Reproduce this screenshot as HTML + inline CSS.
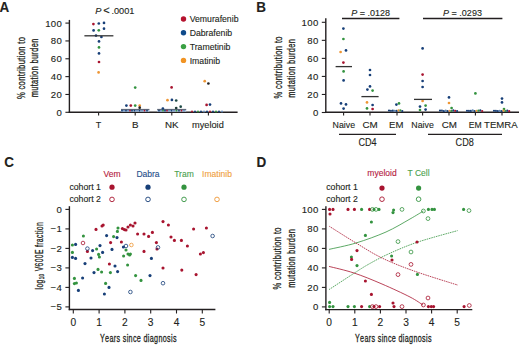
<!DOCTYPE html>
<html><head><meta charset="utf-8"><style>
html,body{margin:0;padding:0;background:#fff;}
svg{display:block;font-family:"Liberation Sans",sans-serif;}
</style></head><body>
<svg width="520" height="345" viewBox="0 0 520 345">
<rect width="520" height="345" fill="#fff"/>
<text transform="translate(-0.5,11.7) scale(0.93,1)" font-size="14.5" text-anchor="start" fill="#231f20" stroke="#231f20" stroke-width="0.12" font-weight="bold">A</text>
<text transform="translate(256.2,11.8) scale(0.93,1)" font-size="14.5" text-anchor="start" fill="#231f20" stroke="#231f20" stroke-width="0.12" font-weight="bold">B</text>
<text transform="translate(4.3,167.2) scale(0.93,1)" font-size="14.5" text-anchor="start" fill="#231f20" stroke="#231f20" stroke-width="0.12" font-weight="bold">C</text>
<text transform="translate(256.6,167.1) scale(0.93,1)" font-size="14.5" text-anchor="start" fill="#231f20" stroke="#231f20" stroke-width="0.12" font-weight="bold">D</text>
<line x1="69.4" y1="19.9" x2="69.4" y2="112.9" stroke="#231f20" stroke-width="1.4" />
<line x1="68.7" y1="112.2" x2="237.6" y2="112.2" stroke="#231f20" stroke-width="1.4" />
<line x1="65.4" y1="112.3" x2="69.4" y2="112.3" stroke="#231f20" stroke-width="1.1" />
<text x="62.2" y="115.7" font-size="9.6" text-anchor="end" fill="#231f20" stroke="#231f20" stroke-width="0.12" letter-spacing="0.35">0</text>
<line x1="65.4" y1="94.46" x2="69.4" y2="94.46" stroke="#231f20" stroke-width="1.1" />
<text x="62.2" y="97.86" font-size="9.6" text-anchor="end" fill="#231f20" stroke="#231f20" stroke-width="0.12" letter-spacing="0.35">20</text>
<line x1="65.4" y1="76.62" x2="69.4" y2="76.62" stroke="#231f20" stroke-width="1.1" />
<text x="62.2" y="80.02000000000001" font-size="9.6" text-anchor="end" fill="#231f20" stroke="#231f20" stroke-width="0.12" letter-spacing="0.35">40</text>
<line x1="65.4" y1="58.779999999999994" x2="69.4" y2="58.779999999999994" stroke="#231f20" stroke-width="1.1" />
<text x="62.2" y="62.17999999999999" font-size="9.6" text-anchor="end" fill="#231f20" stroke="#231f20" stroke-width="0.12" letter-spacing="0.35">60</text>
<line x1="65.4" y1="40.94" x2="69.4" y2="40.94" stroke="#231f20" stroke-width="1.1" />
<text x="62.2" y="44.339999999999996" font-size="9.6" text-anchor="end" fill="#231f20" stroke="#231f20" stroke-width="0.12" letter-spacing="0.35">80</text>
<line x1="65.4" y1="23.099999999999994" x2="69.4" y2="23.099999999999994" stroke="#231f20" stroke-width="1.1" />
<text x="62.2" y="26.499999999999993" font-size="9.6" text-anchor="end" fill="#231f20" stroke="#231f20" stroke-width="0.12" letter-spacing="0.35">100</text>
<line x1="98.6" y1="112" x2="98.6" y2="115.5" stroke="#231f20" stroke-width="1.1" />
<line x1="135.2" y1="112" x2="135.2" y2="115.5" stroke="#231f20" stroke-width="1.1" />
<line x1="171.8" y1="112" x2="171.8" y2="115.5" stroke="#231f20" stroke-width="1.1" />
<line x1="208.4" y1="112" x2="208.4" y2="115.5" stroke="#231f20" stroke-width="1.1" />
<text transform="translate(98.5,127.9) scale(0.92,1)" font-size="9.8" text-anchor="middle" fill="#231f20" stroke="#231f20" stroke-width="0.12" >T</text>
<text transform="translate(135.2,127.9) scale(1.0,1)" font-size="9.8" text-anchor="middle" fill="#231f20" stroke="#231f20" stroke-width="0.12" >B</text>
<text transform="translate(171.8,127.9) scale(1.0,1)" font-size="9.8" text-anchor="middle" fill="#231f20" stroke="#231f20" stroke-width="0.12" >NK</text>
<text transform="translate(207.9,127.9) scale(0.94,1)" font-size="9.8" text-anchor="middle" fill="#231f20" stroke="#231f20" stroke-width="0.12" >myeloid</text>
<text transform="translate(25.0,67.85) rotate(-90) scale(0.7342,1)" font-size="10.3" text-anchor="middle" letter-spacing="0.5" fill="#231f20" stroke="#231f20" stroke-width="0.3" style="font-kerning:none">% contribution to</text>
<text transform="translate(38.1,67.85) rotate(-90) scale(0.7196,1)" font-size="10.3" text-anchor="middle" letter-spacing="0.5" fill="#231f20" stroke="#231f20" stroke-width="0.3" style="font-kerning:none">mutation burden</text>
<text x="95.3" y="14" font-size="9.2" text-anchor="start" fill="#231f20" stroke="#231f20" stroke-width="0.12" font-weight="normal" ><tspan font-style="italic">P</tspan><tspan x="103.3" font-size="11" dy="0.4">&lt;</tspan><tspan x="111.4" dy="-0.4">.0001</tspan></text>
<circle cx="93.4" cy="24.1" r="1.35" fill="#a8142f"/>
<circle cx="98.8" cy="23.5" r="1.35" fill="#173f78"/>
<circle cx="104" cy="22.9" r="1.35" fill="#173f78"/>
<circle cx="93.6" cy="30.4" r="1.35" fill="#173f78"/>
<circle cx="98.8" cy="30.3" r="1.35" fill="#33933f"/>
<circle cx="104" cy="28.7" r="1.35" fill="#173f78"/>
<circle cx="96" cy="35.6" r="1.35" fill="#173f78"/>
<circle cx="101.4" cy="37" r="1.35" fill="#173f78"/>
<circle cx="99" cy="41.4" r="1.35" fill="#173f78"/>
<circle cx="99" cy="47.4" r="1.35" fill="#33933f"/>
<circle cx="99" cy="53.4" r="1.35" fill="#173f78"/>
<circle cx="99" cy="62" r="1.35" fill="#a8142f"/>
<circle cx="98.6" cy="72.4" r="1.35" fill="#ee9634"/>
<line x1="84.4" y1="35.8" x2="113.4" y2="35.8" stroke="#333" stroke-width="1.3" />
<rect x="121" y="109.2" width="28.4" height="2.6" fill="#a8bcd4"/>
<line x1="121" y1="109.4" x2="149.4" y2="109.4" stroke="#3a4250" stroke-width="0.8" />
<circle cx="135.2" cy="87.6" r="1.35" fill="#33933f"/>
<circle cx="126.4" cy="105.6" r="1.35" fill="#173f78"/>
<circle cx="130.8" cy="105.6" r="1.35" fill="#a8142f"/>
<circle cx="135.2" cy="105.6" r="1.35" fill="#33933f"/>
<circle cx="139.7" cy="105.6" r="1.35" fill="#ee9634"/>
<circle cx="139.7" cy="107.7" r="1.35" fill="#222"/>
<circle cx="122" cy="110.7" r="0.9" fill="#173f78"/>
<circle cx="124" cy="110.7" r="0.9" fill="#6a8fbf"/>
<circle cx="126" cy="110.7" r="0.9" fill="#173f78"/>
<circle cx="128" cy="110.7" r="0.9" fill="#6a8fbf"/>
<circle cx="130" cy="110.7" r="0.9" fill="#a8142f"/>
<circle cx="132" cy="110.7" r="0.9" fill="#173f78"/>
<circle cx="134.5" cy="110.7" r="0.9" fill="#173f78"/>
<circle cx="137" cy="110.7" r="0.9" fill="#6a8fbf"/>
<circle cx="139.5" cy="110.7" r="0.9" fill="#173f78"/>
<circle cx="142" cy="110.7" r="0.9" fill="#6a8fbf"/>
<circle cx="144.5" cy="110.7" r="0.9" fill="#a8142f"/>
<circle cx="147" cy="110.7" r="0.9" fill="#173f78"/>
<rect x="157.2" y="109.2" width="29" height="2.6" fill="#a8bcd4"/>
<line x1="157.2" y1="109.4" x2="186.2" y2="109.4" stroke="#3a4250" stroke-width="0.8" />
<circle cx="171.6" cy="87.4" r="1.35" fill="#a8142f"/>
<circle cx="167.5" cy="100.2" r="1.35" fill="#ee9634"/>
<circle cx="171.9" cy="99.9" r="1.35" fill="#173f78"/>
<circle cx="176.2" cy="100.5" r="1.35" fill="#1d4a45"/>
<circle cx="176.2" cy="108" r="1.35" fill="#1d3a35"/>
<circle cx="180.7" cy="106.7" r="1.35" fill="#1d4a45"/>
<circle cx="162.9" cy="108.5" r="1.35" fill="#173f78"/>
<circle cx="159" cy="110.7" r="0.9" fill="#173f78"/>
<circle cx="161" cy="110.7" r="0.9" fill="#6a8fbf"/>
<circle cx="163" cy="110.7" r="0.9" fill="#33933f"/>
<circle cx="165" cy="110.7" r="0.9" fill="#173f78"/>
<circle cx="167" cy="110.7" r="0.9" fill="#a8142f"/>
<circle cx="169" cy="110.7" r="0.9" fill="#6a8fbf"/>
<circle cx="171.5" cy="110.7" r="0.9" fill="#173f78"/>
<circle cx="174" cy="110.7" r="0.9" fill="#6a8fbf"/>
<circle cx="176.5" cy="110.7" r="0.9" fill="#33933f"/>
<circle cx="179" cy="110.7" r="0.9" fill="#173f78"/>
<circle cx="181.5" cy="110.7" r="0.9" fill="#a8142f"/>
<circle cx="184" cy="110.7" r="0.9" fill="#6a8fbf"/>
<circle cx="204.7" cy="81.2" r="1.35" fill="#ee9634"/>
<circle cx="208.4" cy="83.5" r="1.35" fill="#222"/>
<circle cx="206.6" cy="104.9" r="1.35" fill="#a8142f"/>
<circle cx="210" cy="104.6" r="1.35" fill="#173f78"/>
<circle cx="192" cy="111.5" r="1.0" fill="#a8142f"/>
<circle cx="195" cy="111.5" r="1.0" fill="#173f78"/>
<circle cx="198" cy="111.5" r="1.0" fill="#33933f"/>
<circle cx="201" cy="111.5" r="1.0" fill="#173f78"/>
<circle cx="204" cy="111.5" r="1.0" fill="#6a8fbf"/>
<circle cx="207" cy="111.5" r="1.0" fill="#173f78"/>
<circle cx="210" cy="111.5" r="1.0" fill="#a8142f"/>
<circle cx="213" cy="111.5" r="1.0" fill="#173f78"/>
<circle cx="216" cy="111.5" r="1.0" fill="#33933f"/>
<circle cx="219" cy="111.5" r="1.0" fill="#173f78"/>
<circle cx="222" cy="111.5" r="1.0" fill="#6a8fbf"/>
<circle cx="183.5" cy="19.0" r="2.7" fill="#b5122e"/>
<text x="189.7" y="22.1" font-size="8.7" text-anchor="start" fill="#231f20" stroke="#231f20" stroke-width="0.12" font-weight="normal" >Vemurafenib</text>
<circle cx="183.5" cy="32.8" r="2.7" fill="#0f4a8a"/>
<text x="189.7" y="35.9" font-size="8.7" text-anchor="start" fill="#231f20" stroke="#231f20" stroke-width="0.12" font-weight="normal" >Dabrafenib</text>
<circle cx="183.5" cy="46.6" r="2.7" fill="#3aa043"/>
<text x="189.7" y="49.7" font-size="8.7" text-anchor="start" fill="#231f20" stroke="#231f20" stroke-width="0.12" font-weight="normal" >Trametinib</text>
<circle cx="183.5" cy="60.400000000000006" r="2.7" fill="#f19424"/>
<text x="189.7" y="63.50000000000001" font-size="8.7" text-anchor="start" fill="#231f20" stroke="#231f20" stroke-width="0.12" font-weight="normal" >Imatinib</text>
<line x1="325.8" y1="18.2" x2="325.8" y2="112.9" stroke="#231f20" stroke-width="1.4" />
<line x1="325.1" y1="112.2" x2="519" y2="112.2" stroke="#231f20" stroke-width="1.4" />
<line x1="321.8" y1="112.5" x2="325.8" y2="112.5" stroke="#231f20" stroke-width="1.1" />
<text x="318.6" y="115.9" font-size="9.6" text-anchor="end" fill="#231f20" stroke="#231f20" stroke-width="0.12" letter-spacing="0.35">0</text>
<line x1="321.8" y1="94.46000000000001" x2="325.8" y2="94.46000000000001" stroke="#231f20" stroke-width="1.1" />
<text x="318.6" y="97.86000000000001" font-size="9.6" text-anchor="end" fill="#231f20" stroke="#231f20" stroke-width="0.12" letter-spacing="0.35">20</text>
<line x1="321.8" y1="76.42" x2="325.8" y2="76.42" stroke="#231f20" stroke-width="1.1" />
<text x="318.6" y="79.82000000000001" font-size="9.6" text-anchor="end" fill="#231f20" stroke="#231f20" stroke-width="0.12" letter-spacing="0.35">40</text>
<line x1="321.8" y1="58.379999999999995" x2="325.8" y2="58.379999999999995" stroke="#231f20" stroke-width="1.1" />
<text x="318.6" y="61.779999999999994" font-size="9.6" text-anchor="end" fill="#231f20" stroke="#231f20" stroke-width="0.12" letter-spacing="0.35">60</text>
<line x1="321.8" y1="40.34" x2="325.8" y2="40.34" stroke="#231f20" stroke-width="1.1" />
<text x="318.6" y="43.74" font-size="9.6" text-anchor="end" fill="#231f20" stroke="#231f20" stroke-width="0.12" letter-spacing="0.35">80</text>
<line x1="321.8" y1="22.299999999999997" x2="325.8" y2="22.299999999999997" stroke="#231f20" stroke-width="1.1" />
<text x="318.6" y="25.699999999999996" font-size="9.6" text-anchor="end" fill="#231f20" stroke="#231f20" stroke-width="0.12" letter-spacing="0.35">100</text>
<line x1="343.6" y1="112" x2="343.6" y2="115.5" stroke="#231f20" stroke-width="1.1" />
<line x1="370" y1="112" x2="370" y2="115.5" stroke="#231f20" stroke-width="1.1" />
<line x1="397" y1="112" x2="397" y2="115.5" stroke="#231f20" stroke-width="1.1" />
<line x1="422.6" y1="112" x2="422.6" y2="115.5" stroke="#231f20" stroke-width="1.1" />
<line x1="449" y1="112" x2="449" y2="115.5" stroke="#231f20" stroke-width="1.1" />
<line x1="475.4" y1="112" x2="475.4" y2="115.5" stroke="#231f20" stroke-width="1.1" />
<line x1="502" y1="112" x2="502" y2="115.5" stroke="#231f20" stroke-width="1.1" />
<text transform="translate(343.85,127.9) scale(0.9,1)" font-size="9.8" text-anchor="middle" fill="#231f20" stroke="#231f20" stroke-width="0.12" >Naive</text>
<text transform="translate(370,127.9) scale(1.0,1)" font-size="9.8" text-anchor="middle" fill="#231f20" stroke="#231f20" stroke-width="0.12" >CM</text>
<text transform="translate(396.3,127.9) scale(0.98,1)" font-size="9.8" text-anchor="middle" fill="#231f20" stroke="#231f20" stroke-width="0.12" >EM</text>
<text transform="translate(422.6,127.9) scale(0.9,1)" font-size="9.8" text-anchor="middle" fill="#231f20" stroke="#231f20" stroke-width="0.12" >Naive</text>
<text transform="translate(449.3,127.9) scale(1.0,1)" font-size="9.8" text-anchor="middle" fill="#231f20" stroke="#231f20" stroke-width="0.12" >CM</text>
<text transform="translate(475.2,127.9) scale(0.88,1)" font-size="9.8" text-anchor="middle" fill="#231f20" stroke="#231f20" stroke-width="0.12" >EM</text>
<text transform="translate(500.9,127.9) scale(0.98,1)" font-size="9.8" text-anchor="middle" fill="#231f20" stroke="#231f20" stroke-width="0.12" >TEMRA</text>
<text transform="translate(281.8,67.3) rotate(-90) scale(0.7342,1)" font-size="10.3" text-anchor="middle" letter-spacing="0.5" fill="#231f20" stroke="#231f20" stroke-width="0.3" style="font-kerning:none">% contribution to</text>
<text transform="translate(294.8,68.2) rotate(-90) scale(0.7196,1)" font-size="10.3" text-anchor="middle" letter-spacing="0.5" fill="#231f20" stroke="#231f20" stroke-width="0.3" style="font-kerning:none">mutation burden</text>
<line x1="339" y1="134.4" x2="396" y2="134.4" stroke="#231f20" stroke-width="1.3" />
<line x1="428" y1="134.4" x2="502" y2="134.4" stroke="#231f20" stroke-width="1.3" />
<text transform="translate(367.5,146.3) scale(0.86,1)" font-size="10.6" text-anchor="middle" fill="#231f20" stroke="#231f20" stroke-width="0.12" >CD4</text>
<text transform="translate(464.7,146.3) scale(0.86,1)" font-size="10.6" text-anchor="middle" fill="#231f20" stroke="#231f20" stroke-width="0.12" >CD8</text>
<line x1="342" y1="18.5" x2="399.4" y2="18.5" stroke="#231f20" stroke-width="1.3" />
<line x1="423" y1="18.5" x2="502.4" y2="18.5" stroke="#231f20" stroke-width="1.3" />
<text x="370.7" y="15.6" font-size="9" text-anchor="middle" fill="#231f20" stroke="#231f20" stroke-width="0.12" font-weight="normal" ><tspan font-style="italic">P</tspan> = .0128</text>
<text x="462.5" y="15.6" font-size="9" text-anchor="middle" fill="#231f20" stroke="#231f20" stroke-width="0.12" font-weight="normal" ><tspan font-style="italic">P</tspan> = .0293</text>
<circle cx="343.4" cy="28.6" r="1.35" fill="#173f78"/>
<circle cx="343.4" cy="39" r="1.35" fill="#33933f"/>
<circle cx="340.6" cy="52" r="1.35" fill="#ee9634"/>
<circle cx="346" cy="50.4" r="1.35" fill="#173f78"/>
<circle cx="343.4" cy="62.6" r="1.35" fill="#a8142f"/>
<circle cx="343.6" cy="71.4" r="1.35" fill="#33933f"/>
<circle cx="343.6" cy="80.4" r="1.35" fill="#173f78"/>
<circle cx="341" cy="103.4" r="1.35" fill="#173f78"/>
<circle cx="346" cy="104.4" r="1.35" fill="#173f78"/>
<circle cx="343.6" cy="108.6" r="1.35" fill="#173f78"/>
<circle cx="370" cy="70" r="1.35" fill="#173f78"/>
<circle cx="370" cy="75" r="1.35" fill="#173f78"/>
<circle cx="367.4" cy="89.6" r="1.35" fill="#173f78"/>
<circle cx="372.6" cy="90.6" r="1.35" fill="#33933f"/>
<circle cx="370" cy="86.4" r="1.35" fill="#173f78"/>
<circle cx="367" cy="102.4" r="1.35" fill="#ee9634"/>
<circle cx="372.6" cy="105" r="1.35" fill="#173f78"/>
<circle cx="367" cy="108.4" r="1.35" fill="#33933f"/>
<circle cx="372.6" cy="109" r="1.35" fill="#a8142f"/>
<circle cx="396.4" cy="104.6" r="1.35" fill="#173f78"/>
<circle cx="399" cy="103.4" r="1.35" fill="#33933f"/>
<circle cx="422.6" cy="48.4" r="1.35" fill="#173f78"/>
<circle cx="422.6" cy="74.6" r="1.35" fill="#a8142f"/>
<circle cx="422.6" cy="81" r="1.35" fill="#173f78"/>
<circle cx="422.6" cy="87" r="1.35" fill="#173f78"/>
<circle cx="422.6" cy="101" r="1.35" fill="#ee9634"/>
<circle cx="420" cy="106.6" r="1.35" fill="#173f78"/>
<circle cx="425.6" cy="105.6" r="1.35" fill="#33933f"/>
<circle cx="425.6" cy="109.6" r="1.35" fill="#173f78"/>
<circle cx="420" cy="110" r="1.35" fill="#33933f"/>
<circle cx="449" cy="97.4" r="1.35" fill="#173f78"/>
<circle cx="449" cy="103" r="1.35" fill="#ee9634"/>
<circle cx="451.6" cy="108" r="1.35" fill="#33933f"/>
<circle cx="475.4" cy="93.4" r="1.35" fill="#33933f"/>
<circle cx="502" cy="98.6" r="1.35" fill="#173f78"/>
<circle cx="502" cy="102.4" r="1.35" fill="#173f78"/>
<circle cx="504" cy="109" r="1.35" fill="#33933f"/>
<line x1="335.6" y1="66.6" x2="352" y2="66.6" stroke="#333" stroke-width="1.3" />
<line x1="361.4" y1="96.6" x2="378.6" y2="96.6" stroke="#333" stroke-width="1.3" />
<line x1="414" y1="99.4" x2="432" y2="99.4" stroke="#333" stroke-width="1.3" />
<circle cx="389" cy="110.51416816438271" r="1.1" fill="#173f78"/>
<circle cx="390.9" cy="110.78980630276637" r="1.1" fill="#2a4a7a"/>
<circle cx="392.79999999999995" cy="110.63295964989328" r="1.1" fill="#173f78"/>
<circle cx="394.69999999999993" cy="110.84352803473658" r="1.1" fill="#5f86b5"/>
<circle cx="396.5999999999999" cy="110.86314827369725" r="1.1" fill="#173f78"/>
<circle cx="398.4999999999999" cy="110.35897597331584" r="1.1" fill="#ee9634"/>
<circle cx="400.39999999999986" cy="110.31185119239939" r="1.1" fill="#33933f"/>
<circle cx="402.29999999999984" cy="111.05372217388683" r="1.1" fill="#173f78"/>
<circle cx="440" cy="110.53341861289522" r="1.1" fill="#173f78"/>
<circle cx="441.9" cy="110.51089786494204" r="1.1" fill="#2a4a7a"/>
<circle cx="443.79999999999995" cy="111.19608035195942" r="1.1" fill="#173f78"/>
<circle cx="445.69999999999993" cy="110.72323715677021" r="1.1" fill="#5f86b5"/>
<circle cx="447.5999999999999" cy="111.05281530614695" r="1.1" fill="#173f78"/>
<circle cx="449.4999999999999" cy="110.7287178878294" r="1.1" fill="#ee9634"/>
<circle cx="451.39999999999986" cy="110.87516132648975" r="1.1" fill="#33933f"/>
<circle cx="453.29999999999984" cy="110.43555478162118" r="1.1" fill="#173f78"/>
<circle cx="455.1999999999998" cy="110.87137459245668" r="1.1" fill="#a8142f"/>
<circle cx="457.0999999999998" cy="111.08124077642897" r="1.1" fill="#173f78"/>
<circle cx="467" cy="110.77086308934497" r="1.1" fill="#173f78"/>
<circle cx="468.9" cy="110.96712667058135" r="1.1" fill="#2a4a7a"/>
<circle cx="470.79999999999995" cy="110.90427032783263" r="1.1" fill="#173f78"/>
<circle cx="472.69999999999993" cy="110.35762829440431" r="1.1" fill="#5f86b5"/>
<circle cx="474.5999999999999" cy="110.98240722165814" r="1.1" fill="#173f78"/>
<circle cx="476.4999999999999" cy="110.8319896246382" r="1.1" fill="#ee9634"/>
<circle cx="478.39999999999986" cy="110.57114089356415" r="1.1" fill="#33933f"/>
<circle cx="480.29999999999984" cy="110.32791057632278" r="1.1" fill="#173f78"/>
<circle cx="482.1999999999998" cy="111.07897451328105" r="1.1" fill="#a8142f"/>
<circle cx="494" cy="110.72547417979892" r="1.1" fill="#173f78"/>
<circle cx="495.9" cy="110.94694153165923" r="1.1" fill="#2a4a7a"/>
<circle cx="497.79999999999995" cy="111.09093152022994" r="1.1" fill="#173f78"/>
<circle cx="499.69999999999993" cy="110.94271653525009" r="1.1" fill="#5f86b5"/>
<circle cx="501.5999999999999" cy="111.1289888008255" r="1.1" fill="#173f78"/>
<circle cx="503.4999999999999" cy="110.65546706360068" r="1.1" fill="#ee9634"/>
<circle cx="505.39999999999986" cy="111.02081789388671" r="1.1" fill="#33933f"/>
<circle cx="507.29999999999984" cy="110.70015895044568" r="1.1" fill="#173f78"/>
<circle cx="509.1999999999998" cy="111.14202804953408" r="1.1" fill="#a8142f"/>
<line x1="69.4" y1="206.2" x2="69.4" y2="310.2" stroke="#231f20" stroke-width="1.4" />
<line x1="68.7" y1="309.5" x2="215.4" y2="309.5" stroke="#231f20" stroke-width="1.4" />
<line x1="65.4" y1="209.4" x2="69.4" y2="209.4" stroke="#231f20" stroke-width="1.1" />
<text x="62.2" y="212.8" font-size="9.6" text-anchor="end" fill="#231f20" stroke="#231f20" stroke-width="0.12" letter-spacing="0.35">0</text>
<line x1="65.4" y1="228.9" x2="69.4" y2="228.9" stroke="#231f20" stroke-width="1.1" />
<text x="62.2" y="232.3" font-size="9.6" text-anchor="end" fill="#231f20" stroke="#231f20" stroke-width="0.12" letter-spacing="0.35">&#8722;1</text>
<line x1="65.4" y1="248.4" x2="69.4" y2="248.4" stroke="#231f20" stroke-width="1.1" />
<text x="62.2" y="251.8" font-size="9.6" text-anchor="end" fill="#231f20" stroke="#231f20" stroke-width="0.12" letter-spacing="0.35">&#8722;2</text>
<line x1="65.4" y1="267.9" x2="69.4" y2="267.9" stroke="#231f20" stroke-width="1.1" />
<text x="62.2" y="271.29999999999995" font-size="9.6" text-anchor="end" fill="#231f20" stroke="#231f20" stroke-width="0.12" letter-spacing="0.35">&#8722;3</text>
<line x1="65.4" y1="287.4" x2="69.4" y2="287.4" stroke="#231f20" stroke-width="1.1" />
<text x="62.2" y="290.79999999999995" font-size="9.6" text-anchor="end" fill="#231f20" stroke="#231f20" stroke-width="0.12" letter-spacing="0.35">&#8722;4</text>
<line x1="65.4" y1="306.9" x2="69.4" y2="306.9" stroke="#231f20" stroke-width="1.1" />
<text x="62.2" y="310.29999999999995" font-size="9.6" text-anchor="end" fill="#231f20" stroke="#231f20" stroke-width="0.12" letter-spacing="0.35">&#8722;5</text>
<line x1="73.3" y1="309.5" x2="73.3" y2="313.5" stroke="#231f20" stroke-width="1.1" />
<text x="73.3" y="325.9" font-size="10.2" text-anchor="middle" fill="#231f20" stroke="#231f20" stroke-width="0.12" font-weight="normal" >0</text>
<line x1="99.1" y1="309.5" x2="99.1" y2="313.5" stroke="#231f20" stroke-width="1.1" />
<text x="99.1" y="325.9" font-size="10.2" text-anchor="middle" fill="#231f20" stroke="#231f20" stroke-width="0.12" font-weight="normal" >1</text>
<line x1="124.9" y1="309.5" x2="124.9" y2="313.5" stroke="#231f20" stroke-width="1.1" />
<text x="124.9" y="325.9" font-size="10.2" text-anchor="middle" fill="#231f20" stroke="#231f20" stroke-width="0.12" font-weight="normal" >2</text>
<line x1="150.7" y1="309.5" x2="150.7" y2="313.5" stroke="#231f20" stroke-width="1.1" />
<text x="150.7" y="325.9" font-size="10.2" text-anchor="middle" fill="#231f20" stroke="#231f20" stroke-width="0.12" font-weight="normal" >3</text>
<line x1="176.5" y1="309.5" x2="176.5" y2="313.5" stroke="#231f20" stroke-width="1.1" />
<text x="176.5" y="325.9" font-size="10.2" text-anchor="middle" fill="#231f20" stroke="#231f20" stroke-width="0.12" font-weight="normal" >4</text>
<line x1="202.3" y1="309.5" x2="202.3" y2="313.5" stroke="#231f20" stroke-width="1.1" />
<text x="202.3" y="325.9" font-size="10.2" text-anchor="middle" fill="#231f20" stroke="#231f20" stroke-width="0.12" font-weight="normal" >5</text>
<text transform="translate(138.4,341.9) scale(0.6547,1)" font-size="11" text-anchor="middle" letter-spacing="0.5" fill="#231f20" stroke="#231f20" stroke-width="0.3" style="font-kerning:none">Years since diagnosis</text>
<text transform="translate(42.7,255.7) rotate(-90) scale(0.6624,1)" font-size="10.3" text-anchor="middle" letter-spacing="0.5" fill="#231f20" stroke="#231f20" stroke-width="0.3" style="font-kerning:none">log<tspan font-size="7" dy="1.6">10</tspan><tspan dy="-1.6"> V600E fraction</tspan></text>
<text x="101" y="190.3" font-size="9" text-anchor="end" fill="#231f20" stroke="#231f20" stroke-width="0.12" font-weight="normal" textLength="31.6" lengthAdjust="spacingAndGlyphs" >cohort 1</text>
<text x="101" y="202.1" font-size="9" text-anchor="end" fill="#231f20" stroke="#231f20" stroke-width="0.12" font-weight="normal" textLength="31.6" lengthAdjust="spacingAndGlyphs" >cohort 2</text>
<text x="112" y="176.5" font-size="8.5" text-anchor="middle" fill="#b4203e" stroke="#b4203e" stroke-width="0.12" font-weight="normal" >Vem</text>
<circle cx="112" cy="187.2" r="2.6" fill="#a8142f"/>
<circle cx="112" cy="199.4" r="2.3" fill="none" stroke="#a8142f" stroke-width="0.9"/>
<text x="148" y="176.5" font-size="8.5" text-anchor="middle" fill="#1f4e8a" stroke="#1f4e8a" stroke-width="0.12" font-weight="normal" >Dabra</text>
<circle cx="148" cy="187.2" r="2.6" fill="#173f78"/>
<circle cx="148" cy="199.4" r="2.3" fill="none" stroke="#173f78" stroke-width="0.9"/>
<text x="184" y="176.5" font-size="8.5" text-anchor="middle" fill="#4a9f4e" stroke="#4a9f4e" stroke-width="0.12" font-weight="normal" >Tram</text>
<circle cx="184" cy="187.2" r="2.6" fill="#33933f"/>
<circle cx="184" cy="199.4" r="2.3" fill="none" stroke="#33933f" stroke-width="0.9"/>
<text x="217" y="176.5" font-size="8.5" text-anchor="middle" fill="#f0a040" stroke="#f0a040" stroke-width="0.12" font-weight="normal" >Imatinib</text>
<circle cx="217" cy="199.4" r="2.3" fill="none" stroke="#ee9634" stroke-width="0.9"/>
<circle cx="72.4" cy="245" r="1.55" fill="#33933f"/>
<circle cx="75.6" cy="244.4" r="1.55" fill="#173f78"/>
<circle cx="72.4" cy="252.4" r="1.55" fill="#33933f"/>
<circle cx="72.4" cy="257.4" r="1.55" fill="#173f78"/>
<circle cx="75.6" cy="258.4" r="1.55" fill="#173f78"/>
<circle cx="83.4" cy="236" r="1.55" fill="#33933f"/>
<circle cx="87.4" cy="251.4" r="1.55" fill="#a8142f"/>
<circle cx="85" cy="263.6" r="1.55" fill="#173f78"/>
<circle cx="91" cy="258" r="1.55" fill="#173f78"/>
<circle cx="92.6" cy="250.6" r="1.55" fill="#173f78"/>
<circle cx="96" cy="229.4" r="1.55" fill="#a8142f"/>
<circle cx="96.6" cy="249" r="1.55" fill="#33933f"/>
<circle cx="100" cy="245.6" r="1.55" fill="#173f78"/>
<circle cx="98.6" cy="254.4" r="1.55" fill="#33933f"/>
<circle cx="99.4" cy="257" r="1.55" fill="#33933f"/>
<circle cx="102.6" cy="252.4" r="1.55" fill="#173f78"/>
<circle cx="102" cy="226" r="1.55" fill="#a8142f"/>
<circle cx="103.2" cy="225" r="1.55" fill="#a8142f"/>
<circle cx="106.6" cy="235.6" r="1.55" fill="#173f78"/>
<circle cx="110.6" cy="242.6" r="1.55" fill="#a8142f"/>
<circle cx="112" cy="249.4" r="1.55" fill="#173f78"/>
<circle cx="109.4" cy="264" r="1.55" fill="#a8142f"/>
<circle cx="115" cy="266" r="1.55" fill="#173f78"/>
<circle cx="113.6" cy="236.6" r="1.55" fill="#33933f"/>
<circle cx="117" cy="237.6" r="1.55" fill="#173f78"/>
<circle cx="118" cy="228" r="1.55" fill="#33933f"/>
<circle cx="117.4" cy="231.4" r="1.55" fill="#33933f"/>
<circle cx="121.4" cy="242" r="1.55" fill="#a8142f"/>
<circle cx="122.4" cy="228.6" r="1.55" fill="#a8142f"/>
<circle cx="124.4" cy="229.6" r="1.55" fill="#a8142f"/>
<circle cx="126" cy="230" r="1.55" fill="#a8142f"/>
<circle cx="128" cy="227" r="1.55" fill="#a8142f"/>
<circle cx="130.4" cy="225" r="1.55" fill="#a8142f"/>
<circle cx="133" cy="226" r="1.55" fill="#a8142f"/>
<circle cx="135" cy="223" r="1.55" fill="#a8142f"/>
<circle cx="123.4" cy="247" r="1.55" fill="#173f78"/>
<circle cx="126" cy="250" r="1.55" fill="#33933f"/>
<circle cx="128" cy="254" r="1.55" fill="#33933f"/>
<circle cx="130.4" cy="254" r="1.55" fill="#33933f"/>
<circle cx="123.6" cy="256" r="1.55" fill="#33933f"/>
<circle cx="127.6" cy="265" r="1.55" fill="#33933f"/>
<circle cx="137.6" cy="234" r="1.55" fill="#a8142f"/>
<circle cx="144" cy="234" r="1.55" fill="#a8142f"/>
<circle cx="148.6" cy="236.4" r="1.55" fill="#a8142f"/>
<circle cx="152.4" cy="232.4" r="1.55" fill="#a8142f"/>
<circle cx="156.4" cy="242.6" r="1.55" fill="#a8142f"/>
<circle cx="144" cy="251.4" r="1.55" fill="#a8142f"/>
<circle cx="157" cy="249" r="1.55" fill="#a8142f"/>
<circle cx="151.4" cy="258.4" r="1.55" fill="#173f78"/>
<circle cx="163" cy="221.6" r="1.55" fill="#a8142f"/>
<circle cx="168.4" cy="225" r="1.55" fill="#a8142f"/>
<circle cx="171" cy="237" r="1.55" fill="#a8142f"/>
<circle cx="174.4" cy="240.4" r="1.55" fill="#a8142f"/>
<circle cx="181.4" cy="240.4" r="1.55" fill="#a8142f"/>
<circle cx="187.4" cy="246" r="1.55" fill="#a8142f"/>
<circle cx="193.6" cy="229" r="1.55" fill="#a8142f"/>
<circle cx="206.4" cy="228" r="1.55" fill="#a8142f"/>
<circle cx="200.4" cy="254" r="1.55" fill="#a8142f"/>
<circle cx="203.4" cy="252.6" r="1.55" fill="#a8142f"/>
<circle cx="163" cy="268" r="1.55" fill="#a8142f"/>
<circle cx="181.8" cy="270.1" r="1.55" fill="#a8142f"/>
<circle cx="196.1" cy="274.6" r="1.55" fill="#a8142f"/>
<circle cx="150" cy="275.6" r="1.55" fill="#173f78"/>
<circle cx="117.6" cy="271.6" r="1.55" fill="#173f78"/>
<circle cx="94" cy="272.6" r="1.55" fill="#173f78"/>
<circle cx="98" cy="269.4" r="1.55" fill="#33933f"/>
<circle cx="101.6" cy="272" r="1.55" fill="#33933f"/>
<circle cx="110.4" cy="272.6" r="1.55" fill="#33933f"/>
<circle cx="74.4" cy="278.4" r="1.55" fill="#33933f"/>
<circle cx="74.4" cy="283.6" r="1.55" fill="#33933f"/>
<circle cx="76.4" cy="283" r="1.55" fill="#33933f"/>
<circle cx="82.6" cy="278" r="1.55" fill="#173f78"/>
<circle cx="78.4" cy="290.4" r="1.55" fill="#173f78"/>
<circle cx="105.6" cy="283.4" r="1.55" fill="#33933f"/>
<circle cx="109" cy="287.4" r="1.55" fill="#173f78"/>
<circle cx="104.4" cy="294" r="1.55" fill="#173f78"/>
<circle cx="135.6" cy="275.6" r="1.55" fill="#33933f"/>
<circle cx="141" cy="280.4" r="1.55" fill="#33933f"/>
<circle cx="129.6" cy="255" r="1.55" fill="#33933f"/>
<circle cx="83" cy="243" r="1.8" fill="none" stroke="#a8142f" stroke-width="0.8"/>
<circle cx="87.4" cy="248.6" r="1.8" fill="none" stroke="#173f78" stroke-width="0.8"/>
<circle cx="126" cy="246" r="1.8" fill="none" stroke="#173f78" stroke-width="0.8"/>
<circle cx="131.4" cy="245" r="1.8" fill="none" stroke="#ee9634" stroke-width="0.8"/>
<circle cx="158" cy="247.4" r="1.8" fill="none" stroke="#173f78" stroke-width="0.8"/>
<circle cx="212.6" cy="236" r="1.8" fill="none" stroke="#173f78" stroke-width="0.8"/>
<circle cx="130.4" cy="292" r="1.8" fill="none" stroke="#173f78" stroke-width="0.8"/>
<circle cx="163" cy="283.2" r="1.8" fill="none" stroke="#173f78" stroke-width="0.8"/>
<line x1="325.9" y1="206.2" x2="325.9" y2="310.3" stroke="#231f20" stroke-width="1.4" />
<line x1="325.2" y1="309.6" x2="472.3" y2="309.6" stroke="#231f20" stroke-width="1.4" />
<line x1="321.9" y1="306.9" x2="325.9" y2="306.9" stroke="#231f20" stroke-width="1.1" />
<text x="318.7" y="310.29999999999995" font-size="9.6" text-anchor="end" fill="#231f20" stroke="#231f20" stroke-width="0.12" letter-spacing="0.35">0</text>
<line x1="321.9" y1="287.4" x2="325.9" y2="287.4" stroke="#231f20" stroke-width="1.1" />
<text x="318.7" y="290.79999999999995" font-size="9.6" text-anchor="end" fill="#231f20" stroke="#231f20" stroke-width="0.12" letter-spacing="0.35">20</text>
<line x1="321.9" y1="267.9" x2="325.9" y2="267.9" stroke="#231f20" stroke-width="1.1" />
<text x="318.7" y="271.29999999999995" font-size="9.6" text-anchor="end" fill="#231f20" stroke="#231f20" stroke-width="0.12" letter-spacing="0.35">40</text>
<line x1="321.9" y1="248.39999999999998" x2="325.9" y2="248.39999999999998" stroke="#231f20" stroke-width="1.1" />
<text x="318.7" y="251.79999999999998" font-size="9.6" text-anchor="end" fill="#231f20" stroke="#231f20" stroke-width="0.12" letter-spacing="0.35">60</text>
<line x1="321.9" y1="228.89999999999998" x2="325.9" y2="228.89999999999998" stroke="#231f20" stroke-width="1.1" />
<text x="318.7" y="232.29999999999998" font-size="9.6" text-anchor="end" fill="#231f20" stroke="#231f20" stroke-width="0.12" letter-spacing="0.35">80</text>
<line x1="321.9" y1="209.39999999999998" x2="325.9" y2="209.39999999999998" stroke="#231f20" stroke-width="1.1" />
<text x="318.7" y="212.79999999999998" font-size="9.6" text-anchor="end" fill="#231f20" stroke="#231f20" stroke-width="0.12" letter-spacing="0.35">100</text>
<line x1="329.2" y1="309.6" x2="329.2" y2="313.6" stroke="#231f20" stroke-width="1.1" />
<text x="329.2" y="325.9" font-size="10.2" text-anchor="middle" fill="#231f20" stroke="#231f20" stroke-width="0.12" font-weight="normal" >0</text>
<line x1="354.8" y1="309.6" x2="354.8" y2="313.6" stroke="#231f20" stroke-width="1.1" />
<text x="354.8" y="325.9" font-size="10.2" text-anchor="middle" fill="#231f20" stroke="#231f20" stroke-width="0.12" font-weight="normal" >1</text>
<line x1="380.4" y1="309.6" x2="380.4" y2="313.6" stroke="#231f20" stroke-width="1.1" />
<text x="380.4" y="325.9" font-size="10.2" text-anchor="middle" fill="#231f20" stroke="#231f20" stroke-width="0.12" font-weight="normal" >2</text>
<line x1="406.0" y1="309.6" x2="406.0" y2="313.6" stroke="#231f20" stroke-width="1.1" />
<text x="406.0" y="325.9" font-size="10.2" text-anchor="middle" fill="#231f20" stroke="#231f20" stroke-width="0.12" font-weight="normal" >3</text>
<line x1="431.6" y1="309.6" x2="431.6" y2="313.6" stroke="#231f20" stroke-width="1.1" />
<text x="431.6" y="325.9" font-size="10.2" text-anchor="middle" fill="#231f20" stroke="#231f20" stroke-width="0.12" font-weight="normal" >4</text>
<line x1="457.2" y1="309.6" x2="457.2" y2="313.6" stroke="#231f20" stroke-width="1.1" />
<text x="457.2" y="325.9" font-size="10.2" text-anchor="middle" fill="#231f20" stroke="#231f20" stroke-width="0.12" font-weight="normal" >5</text>
<text transform="translate(393.4,341.9) scale(0.6547,1)" font-size="11" text-anchor="middle" letter-spacing="0.5" fill="#231f20" stroke="#231f20" stroke-width="0.3" style="font-kerning:none">Years since diagnosis</text>
<text transform="translate(281.4,258.3) rotate(-90) scale(0.7342,1)" font-size="10.3" text-anchor="middle" letter-spacing="0.5" fill="#231f20" stroke="#231f20" stroke-width="0.3" style="font-kerning:none">% contribution to</text>
<text transform="translate(294.5,258.3) rotate(-90) scale(0.7196,1)" font-size="10.3" text-anchor="middle" letter-spacing="0.5" fill="#231f20" stroke="#231f20" stroke-width="0.3" style="font-kerning:none">mutation burden</text>
<text x="357.8" y="190.4" font-size="9" text-anchor="end" fill="#231f20" stroke="#231f20" stroke-width="0.12" font-weight="normal" textLength="31.6" lengthAdjust="spacingAndGlyphs" >cohort 1</text>
<text x="357.8" y="202.2" font-size="9" text-anchor="end" fill="#231f20" stroke="#231f20" stroke-width="0.12" font-weight="normal" textLength="31.6" lengthAdjust="spacingAndGlyphs" >cohort 2</text>
<text x="382" y="176.3" font-size="8.5" text-anchor="middle" fill="#b4203e" stroke="#b4203e" stroke-width="0.12" font-weight="normal" >myeloid</text>
<text x="418.6" y="176.2" font-size="8.5" text-anchor="middle" fill="#4a9f4e" stroke="#4a9f4e" stroke-width="0.12" font-weight="normal" >T Cell</text>
<circle cx="382" cy="188.1" r="2.6" fill="#a8142f"/>
<circle cx="418.6" cy="188.1" r="2.6" fill="#33933f"/>
<circle cx="382" cy="199.2" r="2.3" fill="none" stroke="#a8142f" stroke-width="0.9"/>
<circle cx="418.6" cy="199.2" r="2.3" fill="none" stroke="#33933f" stroke-width="0.9"/>
<path d="M329,249.4 C333.5,248.3 346.5,245.9 356,243 C365.5,240.1 377.0,236.0 386,232 C395.0,228.0 403.8,222.5 410,219 C416.2,215.5 421.2,212.3 423.4,211" fill="none" stroke="#33933f" stroke-width="0.8"/>
<path d="M329,289.6 C333.5,286.7 349.3,276.3 356,272 C362.7,267.7 363.5,267.1 369,264 C374.5,260.9 380.8,257.4 389,253.7 C397.2,250.0 406.6,245.8 418,242 C429.4,238.2 451.0,232.5 457.6,230.6" fill="none" stroke="#33933f" stroke-width="0.8" stroke-dasharray="1.6,0.8"/>
<path d="M329.3,226.3 C333.8,229.1 347.2,237.7 356,243 C364.8,248.3 372.3,253.3 382,258 C391.7,262.7 401.4,266.5 414,271 C426.6,275.5 450.5,282.8 457.8,285.1" fill="none" stroke="#a8142f" stroke-width="0.8" stroke-dasharray="1.6,0.8"/>
<path d="M329,266.4 C333.2,267.5 345.2,270.1 354,273 C362.8,275.9 372.7,280.0 382,284 C391.3,288.0 403.2,293.5 410,297 C416.8,300.5 420.8,303.7 423,305" fill="none" stroke="#a8142f" stroke-width="0.8"/>
<circle cx="329.6" cy="209.4" r="1.55" fill="#a8142f"/>
<circle cx="333" cy="209.4" r="1.55" fill="#a8142f"/>
<circle cx="330" cy="214" r="1.55" fill="#a8142f"/>
<circle cx="348" cy="209.4" r="1.55" fill="#a8142f"/>
<circle cx="354.4" cy="209.4" r="1.55" fill="#a8142f"/>
<circle cx="361.6" cy="209.4" r="1.55" fill="#33933f"/>
<circle cx="369.6" cy="209.4" r="1.55" fill="#a8142f"/>
<circle cx="374" cy="209.4" r="1.55" fill="#33933f"/>
<circle cx="379" cy="209.4" r="1.55" fill="#33933f"/>
<circle cx="393.6" cy="210" r="1.55" fill="#33933f"/>
<circle cx="393" cy="212.6" r="1.55" fill="#33933f"/>
<circle cx="428.4" cy="209.4" r="1.55" fill="#33933f"/>
<circle cx="432" cy="209.4" r="1.55" fill="#33933f"/>
<circle cx="434.4" cy="209.4" r="1.55" fill="#33933f"/>
<circle cx="463.6" cy="209.4" r="1.55" fill="#33933f"/>
<circle cx="371.4" cy="222" r="1.55" fill="#33933f"/>
<circle cx="365.4" cy="235.4" r="1.55" fill="#33933f"/>
<circle cx="417" cy="242" r="1.55" fill="#a8142f"/>
<circle cx="357" cy="250.6" r="1.55" fill="#a8142f"/>
<circle cx="351.4" cy="257" r="1.55" fill="#33933f"/>
<circle cx="351.6" cy="259.4" r="1.55" fill="#a8142f"/>
<circle cx="391.6" cy="256" r="1.55" fill="#33933f"/>
<circle cx="392" cy="260" r="1.55" fill="#a8142f"/>
<circle cx="357" cy="265.6" r="1.55" fill="#33933f"/>
<circle cx="417.4" cy="274.4" r="1.55" fill="#33933f"/>
<circle cx="365.4" cy="281" r="1.55" fill="#a8142f"/>
<circle cx="371.4" cy="294.4" r="1.55" fill="#a8142f"/>
<circle cx="329.6" cy="302.4" r="1.55" fill="#33933f"/>
<circle cx="329.6" cy="306.6" r="1.55" fill="#33933f"/>
<circle cx="333" cy="306.6" r="1.55" fill="#33933f"/>
<circle cx="348" cy="306.6" r="1.55" fill="#33933f"/>
<circle cx="354.4" cy="306.6" r="1.55" fill="#33933f"/>
<circle cx="361.6" cy="306.6" r="1.55" fill="#a8142f"/>
<circle cx="369.6" cy="306.6" r="1.55" fill="#33933f"/>
<circle cx="374" cy="306.6" r="1.55" fill="#a8142f"/>
<circle cx="379.6" cy="306.6" r="1.55" fill="#a8142f"/>
<circle cx="393" cy="303" r="1.55" fill="#a8142f"/>
<circle cx="394" cy="306.6" r="1.55" fill="#a8142f"/>
<circle cx="428.4" cy="306.6" r="1.55" fill="#a8142f"/>
<circle cx="431.3" cy="306.6" r="1.55" fill="#a8142f"/>
<circle cx="433.6" cy="306.6" r="1.55" fill="#a8142f"/>
<circle cx="464.1" cy="306.6" r="1.55" fill="#a8142f"/>
<circle cx="372.4" cy="209.4" r="1.9" fill="none" stroke="#33933f" stroke-width="0.8"/>
<circle cx="376" cy="209.4" r="1.9" fill="none" stroke="#33933f" stroke-width="0.8"/>
<circle cx="402" cy="209.4" r="1.9" fill="none" stroke="#33933f" stroke-width="0.8"/>
<circle cx="423.4" cy="211" r="1.9" fill="none" stroke="#33933f" stroke-width="0.8"/>
<circle cx="428" cy="218.6" r="1.9" fill="none" stroke="#33933f" stroke-width="0.8"/>
<circle cx="469" cy="210.6" r="1.9" fill="none" stroke="#33933f" stroke-width="0.8"/>
<circle cx="398" cy="241.6" r="1.9" fill="none" stroke="#33933f" stroke-width="0.8"/>
<circle cx="411" cy="252" r="1.9" fill="none" stroke="#33933f" stroke-width="0.8"/>
<circle cx="411" cy="264.4" r="1.9" fill="none" stroke="#a8142f" stroke-width="0.8"/>
<circle cx="398" cy="274.6" r="1.9" fill="none" stroke="#a8142f" stroke-width="0.8"/>
<circle cx="428" cy="298" r="1.9" fill="none" stroke="#a8142f" stroke-width="0.8"/>
<circle cx="423.4" cy="305" r="1.9" fill="none" stroke="#a8142f" stroke-width="0.8"/>
<circle cx="372.4" cy="306.6" r="1.9" fill="none" stroke="#a8142f" stroke-width="0.8"/>
<circle cx="376" cy="306.6" r="1.9" fill="none" stroke="#a8142f" stroke-width="0.8"/>
<circle cx="402" cy="306.6" r="1.9" fill="none" stroke="#a8142f" stroke-width="0.8"/>
<circle cx="469.3" cy="305.5" r="1.9" fill="none" stroke="#a8142f" stroke-width="0.8"/>
</svg>
</body></html>
